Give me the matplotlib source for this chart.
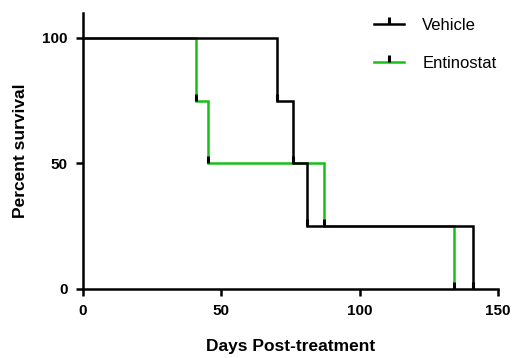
import matplotlib
matplotlib.use("Agg")
import matplotlib.pyplot as plt
from matplotlib.lines import Line2D

# Data
vehicle_days = [0, 70, 76, 81, 141]
vehicle_surv = [100, 75, 50, 25, 0]
entino_days = [0, 41, 45, 87, 134]
entino_surv = [100, 75, 50, 25, 0]
series_names = ["Vehicle", "Entinostat"]
x_ticks = [0, 50, 100, 150]
y_ticks = [0, 50, 100]

plt.rcParams['font.family'] = ['Liberation Sans', 'DejaVu Sans']

GREEN = '#16C016'
fig = plt.figure(figsize=(5.22, 3.58), dpi=100)
ax = fig.add_axes([83/522, 1-289/358, (498-83)/522, (289-12.7)/358])

lw = 1.8
ax.step(entino_days, entino_surv, where='post', color=GREEN, lw=lw, zorder=2, solid_joinstyle='miter')
ax.step(vehicle_days, vehicle_surv, where='post', color='black', lw=lw, zorder=3, solid_joinstyle='miter')
ax.plot(entino_days[1:], entino_surv[1:], ls='none', marker=2, ms=5, mew=2.2, color='black', zorder=4, clip_on=False)
ax.plot(vehicle_days[1:], vehicle_surv[1:], ls='none', marker=2, ms=5, mew=2.2, color='black', zorder=4, clip_on=False)

ax.set_xlim(0, 150)
ax.set_ylim(0, 110)
ax.set_xticks(x_ticks)
ax.set_yticks(y_ticks)
for s in ['top', 'right']:
    ax.spines[s].set_visible(False)
for s in ['left', 'bottom']:
    ax.spines[s].set_linewidth(1.8)
ax.tick_params(direction='out', length=5, width=1.8, labelsize=11, pad=6)
for lab in ax.get_xticklabels() + ax.get_yticklabels():
    lab.set_fontweight('bold')

ax.set_xlabel("Days Post-treatment", fontsize=12.5, fontweight='bold', labelpad=15)
ax.set_ylabel("Percent survival", fontsize=12.5, fontweight='bold', labelpad=10)

handles = [
    Line2D([0], [0], color='black', lw=lw, marker=2, ms=5, mew=2.2, mfc='black', mec='black'),
    Line2D([0], [0], color=GREEN, lw=lw, marker=2, ms=5, mew=2.2, mfc='black', mec='black'),
]
fig.legend(handles, series_names, loc='upper left', bbox_to_anchor=(374/522, 1-18/358),
           frameon=False, fontsize=12, handlelength=1.8, handletextpad=1.1,
           labelspacing=1.4, numpoints=1, borderpad=0, borderaxespad=0)

fig.savefig("out.png", dpi=100)
